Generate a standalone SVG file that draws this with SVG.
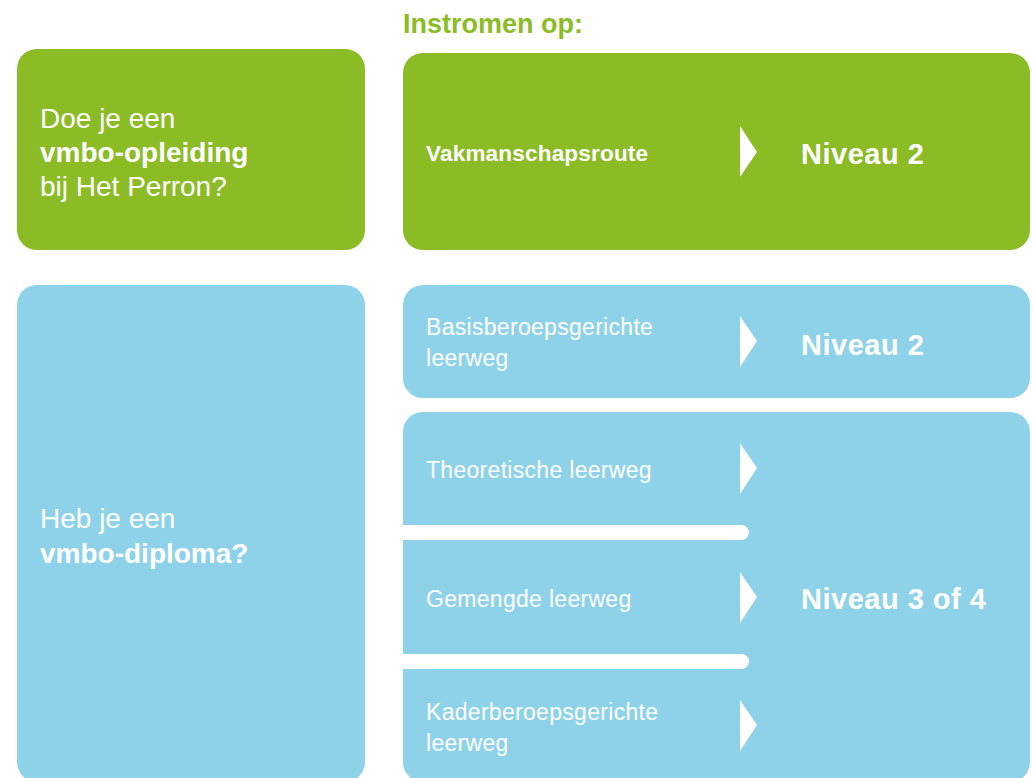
<svg xmlns="http://www.w3.org/2000/svg" width="1033" height="778" viewBox="0 0 1033 778">
<style>
.g{fill:#8BBC26}
.b{fill:#8ED2E9}
.w{fill:#FFFFFF}
text{font-family:"Liberation Sans",Arial,sans-serif;fill:#FFFFFF}
.q{font-size:28px}
.qb{font-size:28px;font-weight:bold}
.s{font-size:23px;letter-spacing:0.3px}
.sb{font-size:22.5px;font-weight:bold;letter-spacing:0.2px}
.n{font-size:29px;font-weight:bold;letter-spacing:0.5px}
.h{font-size:27px;font-weight:bold;fill:#8BBC26}
</style>
<rect width="1033" height="778" fill="#FFFFFF"/>
<text class="h" x="403" y="33">Instromen op:</text>
<g id="vraag-opleiding">
<rect class="g" x="17" y="49" width="348" height="201" rx="20"/>
<text class="q" x="40" y="128">Doe je een</text>
<text class="qb" x="40" y="162">vmbo-opleiding</text>
<text class="q" x="40" y="196">bij Het Perron?</text>
</g>
<g id="vakmanschapsroute">
<rect class="g" x="403" y="53" width="627" height="197" rx="20"/>
<text class="sb" x="426" y="161">Vakmanschapsroute</text>
<text class="n" x="801" y="164">Niveau 2</text>
</g>
<g id="vraag-diploma">
<rect class="b" x="17" y="285" width="348" height="497" rx="20"/>
<text class="q" x="40" y="528">Heb je een</text>
<text class="qb" x="40" y="563">vmbo-diploma?</text>
</g>
<g id="basisberoeps">
<rect class="b" x="403" y="285" width="627" height="113" rx="20"/>
<text class="s" x="426" y="335">Basisberoepsgerichte</text>
<text class="s" x="426" y="366">leerweg</text>
<text class="n" x="801" y="355">Niveau 2</text>
</g>
<g id="niveau-3-4">
<rect class="b" x="403" y="412" width="627" height="370" rx="20"/>
<path class="w" d="M403,525 H741.5 A7.5,7.5 0 0 1 741.5,540 H403 Z"/>
<path class="w" d="M403,654 H741.5 A7.5,7.5 0 0 1 741.5,669 H403 Z"/>
<text class="s" x="426" y="478">Theoretische leerweg</text>
<text class="s" x="426" y="607">Gemengde leerweg</text>
<text class="s" x="426" y="720">Kaderberoepsgerichte</text>
<text class="s" x="426" y="751">leerweg</text>
<text class="n" x="801" y="609">Niveau 3 of 4</text>
</g>
<g id="connectors">
<polygon class="w" points="740,126 757,152 740,177"/>
<polygon class="w" points="740,316 757,341 740,367"/>
<polygon class="w" points="740,443 757,468 740,494"/>
<polygon class="w" points="740,572 757,597 740,623"/>
<polygon class="w" points="740,700 757,725 740,751"/>
</g>
</svg>
